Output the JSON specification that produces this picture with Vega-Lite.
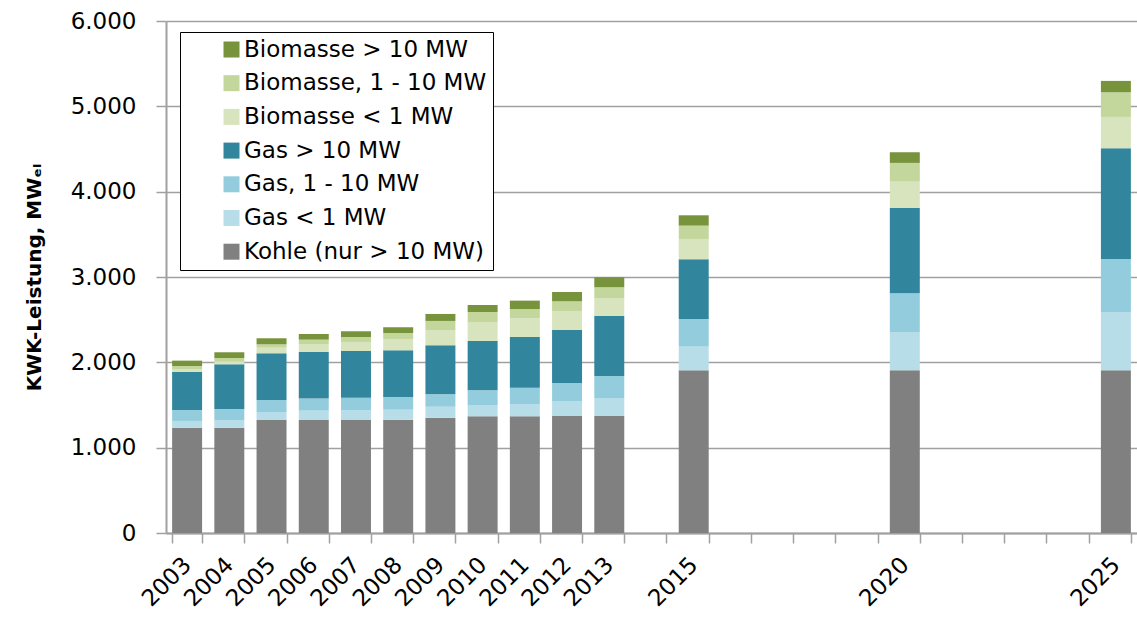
{
  "$schema": "https://vega.github.io/schema/vega-lite/v6.json",
  "width": 971,
  "height": 512,
  "autosize": {"type": "none"},
  "padding": {"left": 166, "top": 21, "right": 0, "bottom": 88},
  "background": "white",
  "config": {"font": "DejaVu Sans", "view": {"stroke": null}},
  "data": {
    "values": [
      {"year": 2003, "cat": "Kohle (nur > 10 MW)", "value": 1234},
      {"year": 2003, "cat": "Gas < 1 MW", "value": 79},
      {"year": 2003, "cat": "Gas, 1 - 10 MW", "value": 128},
      {"year": 2003, "cat": "Gas > 10 MW", "value": 446},
      {"year": 2003, "cat": "Biomasse < 1 MW", "value": 35},
      {"year": 2003, "cat": "Biomasse, 1 - 10 MW", "value": 35},
      {"year": 2003, "cat": "Biomasse > 10 MW", "value": 63},
      {"year": 2004, "cat": "Kohle (nur > 10 MW)", "value": 1234},
      {"year": 2004, "cat": "Gas < 1 MW", "value": 90},
      {"year": 2004, "cat": "Gas, 1 - 10 MW", "value": 129},
      {"year": 2004, "cat": "Gas > 10 MW", "value": 524},
      {"year": 2004, "cat": "Biomasse < 1 MW", "value": 31},
      {"year": 2004, "cat": "Biomasse, 1 - 10 MW", "value": 43},
      {"year": 2004, "cat": "Biomasse > 10 MW", "value": 67},
      {"year": 2005, "cat": "Kohle (nur > 10 MW)", "value": 1324},
      {"year": 2005, "cat": "Gas < 1 MW", "value": 94},
      {"year": 2005, "cat": "Gas, 1 - 10 MW", "value": 141},
      {"year": 2005, "cat": "Gas > 10 MW", "value": 547},
      {"year": 2005, "cat": "Biomasse < 1 MW", "value": 66},
      {"year": 2005, "cat": "Biomasse, 1 - 10 MW", "value": 39},
      {"year": 2005, "cat": "Biomasse > 10 MW", "value": 71},
      {"year": 2006, "cat": "Kohle (nur > 10 MW)", "value": 1324},
      {"year": 2006, "cat": "Gas < 1 MW", "value": 110},
      {"year": 2006, "cat": "Gas, 1 - 10 MW", "value": 141},
      {"year": 2006, "cat": "Gas > 10 MW", "value": 546},
      {"year": 2006, "cat": "Biomasse < 1 MW", "value": 94},
      {"year": 2006, "cat": "Biomasse, 1 - 10 MW", "value": 51},
      {"year": 2006, "cat": "Biomasse > 10 MW", "value": 66},
      {"year": 2007, "cat": "Kohle (nur > 10 MW)", "value": 1324},
      {"year": 2007, "cat": "Gas < 1 MW", "value": 117},
      {"year": 2007, "cat": "Gas, 1 - 10 MW", "value": 145},
      {"year": 2007, "cat": "Gas > 10 MW", "value": 547},
      {"year": 2007, "cat": "Biomasse < 1 MW", "value": 106},
      {"year": 2007, "cat": "Biomasse, 1 - 10 MW", "value": 58},
      {"year": 2007, "cat": "Biomasse > 10 MW", "value": 67},
      {"year": 2008, "cat": "Kohle (nur > 10 MW)", "value": 1328},
      {"year": 2008, "cat": "Gas < 1 MW", "value": 117},
      {"year": 2008, "cat": "Gas, 1 - 10 MW", "value": 149},
      {"year": 2008, "cat": "Gas > 10 MW", "value": 547},
      {"year": 2008, "cat": "Biomasse < 1 MW", "value": 133},
      {"year": 2008, "cat": "Biomasse, 1 - 10 MW", "value": 70},
      {"year": 2008, "cat": "Biomasse > 10 MW", "value": 67},
      {"year": 2009, "cat": "Kohle (nur > 10 MW)", "value": 1352},
      {"year": 2009, "cat": "Gas < 1 MW", "value": 128},
      {"year": 2009, "cat": "Gas, 1 - 10 MW", "value": 145},
      {"year": 2009, "cat": "Gas > 10 MW", "value": 575},
      {"year": 2009, "cat": "Biomasse < 1 MW", "value": 179},
      {"year": 2009, "cat": "Biomasse, 1 - 10 MW", "value": 106},
      {"year": 2009, "cat": "Biomasse > 10 MW", "value": 82},
      {"year": 2010, "cat": "Kohle (nur > 10 MW)", "value": 1368},
      {"year": 2010, "cat": "Gas < 1 MW", "value": 132},
      {"year": 2010, "cat": "Gas, 1 - 10 MW", "value": 172},
      {"year": 2010, "cat": "Gas > 10 MW", "value": 578},
      {"year": 2010, "cat": "Biomasse < 1 MW", "value": 223},
      {"year": 2010, "cat": "Biomasse, 1 - 10 MW", "value": 117},
      {"year": 2010, "cat": "Biomasse > 10 MW", "value": 82},
      {"year": 2011, "cat": "Kohle (nur > 10 MW)", "value": 1368},
      {"year": 2011, "cat": "Gas < 1 MW", "value": 144},
      {"year": 2011, "cat": "Gas, 1 - 10 MW", "value": 191},
      {"year": 2011, "cat": "Gas > 10 MW", "value": 594},
      {"year": 2011, "cat": "Biomasse < 1 MW", "value": 219},
      {"year": 2011, "cat": "Biomasse, 1 - 10 MW", "value": 109},
      {"year": 2011, "cat": "Biomasse > 10 MW", "value": 98},
      {"year": 2012, "cat": "Kohle (nur > 10 MW)", "value": 1371},
      {"year": 2012, "cat": "Gas < 1 MW", "value": 176},
      {"year": 2012, "cat": "Gas, 1 - 10 MW", "value": 211},
      {"year": 2012, "cat": "Gas > 10 MW", "value": 621},
      {"year": 2012, "cat": "Biomasse < 1 MW", "value": 223},
      {"year": 2012, "cat": "Biomasse, 1 - 10 MW", "value": 113},
      {"year": 2012, "cat": "Biomasse > 10 MW", "value": 109},
      {"year": 2013, "cat": "Kohle (nur > 10 MW)", "value": 1371},
      {"year": 2013, "cat": "Gas < 1 MW", "value": 211},
      {"year": 2013, "cat": "Gas, 1 - 10 MW", "value": 258},
      {"year": 2013, "cat": "Gas > 10 MW", "value": 703},
      {"year": 2013, "cat": "Biomasse < 1 MW", "value": 211},
      {"year": 2013, "cat": "Biomasse, 1 - 10 MW", "value": 126},
      {"year": 2013, "cat": "Biomasse > 10 MW", "value": 117},
      {"year": 2015, "cat": "Kohle (nur > 10 MW)", "value": 1906},
      {"year": 2015, "cat": "Gas < 1 MW", "value": 278},
      {"year": 2015, "cat": "Gas, 1 - 10 MW", "value": 324},
      {"year": 2015, "cat": "Gas > 10 MW", "value": 700},
      {"year": 2015, "cat": "Biomasse < 1 MW", "value": 238},
      {"year": 2015, "cat": "Biomasse, 1 - 10 MW", "value": 156},
      {"year": 2015, "cat": "Biomasse > 10 MW", "value": 121},
      {"year": 2020, "cat": "Kohle (nur > 10 MW)", "value": 1906},
      {"year": 2020, "cat": "Gas < 1 MW", "value": 450},
      {"year": 2020, "cat": "Gas, 1 - 10 MW", "value": 453},
      {"year": 2020, "cat": "Gas > 10 MW", "value": 1000},
      {"year": 2020, "cat": "Biomasse < 1 MW", "value": 309},
      {"year": 2020, "cat": "Biomasse, 1 - 10 MW", "value": 219},
      {"year": 2020, "cat": "Biomasse > 10 MW", "value": 125},
      {"year": 2025, "cat": "Kohle (nur > 10 MW)", "value": 1906},
      {"year": 2025, "cat": "Gas < 1 MW", "value": 684},
      {"year": 2025, "cat": "Gas, 1 - 10 MW", "value": 621},
      {"year": 2025, "cat": "Gas > 10 MW", "value": 1298},
      {"year": 2025, "cat": "Biomasse < 1 MW", "value": 367},
      {"year": 2025, "cat": "Biomasse, 1 - 10 MW", "value": 289},
      {"year": 2025, "cat": "Biomasse > 10 MW", "value": 133}
    ]
  },
  "transform": [
    {"calculate": "indexof(['Kohle (nur > 10 MW)','Gas < 1 MW','Gas, 1 - 10 MW','Gas > 10 MW','Biomasse < 1 MW','Biomasse, 1 - 10 MW','Biomasse > 10 MW'], datum.cat)", "as": "stackorder"}
  ],
  "mark": {"type": "bar"},
  "encoding": {
    "x": {
      "field": "year",
      "type": "ordinal",
      "scale": {
        "domain": [2003, 2004, 2005, 2006, 2007, 2008, 2009, 2010, 2011, 2012, 2013, 2014, 2015, 2016, 2017, 2018, 2019, 2020, 2021, 2022, 2023, 2024, 2025],
        "paddingInner": 0.29,
        "paddingOuter": 0.145
      },
      "axis": {
        "title": null,
        "tickBand": "extent",
        "labelExpr": "(datum.value == 2014 || (datum.value > 2015 && datum.value < 2020) || (datum.value > 2020 && datum.value < 2025)) ? '' : datum.label",
        "labelAngle": -45,
        "labelAlign": "right",
        "labelBaseline": "middle",
        "labelFontSize": 23,
        "labelColor": "black",
        "labelPadding": 18,
        "labelOverlap": false,
        "domainColor": "#a0a0a0",
        "domainWidth": 2,
        "tickColor": "#a0a0a0",
        "tickWidth": 1.5,
        "tickSize": 10,
        "grid": false
      }
    },
    "y": {
      "field": "value",
      "type": "quantitative",
      "stack": "zero",
      "scale": {"domain": [0, 6000], "nice": false},
      "axis": {
        "values": [0, 1000, 2000, 3000, 4000, 5000, 6000],
        "labelExpr": "replace(format(datum.value, ','), ',', '.')",
        "labelFontSize": 23,
        "labelColor": "black",
        "labelPadding": 20,
        "grid": true,
        "gridColor": "#a0a0a0",
        "gridWidth": 1.5,
        "domainColor": "#a0a0a0",
        "domainWidth": 2,
        "tickColor": "#a0a0a0",
        "tickWidth": 1.5,
        "tickSize": 10,
        "title": "KWK-Leistung, MWₑₗ",
        "titleFontSize": 20,
        "titleFontWeight": "bold",
        "titleColor": "black",
        "titlePadding": 26
      }
    },
    "color": {
      "field": "cat",
      "type": "nominal",
      "scale": {
        "domain": ["Biomasse > 10 MW", "Biomasse, 1 - 10 MW", "Biomasse < 1 MW", "Gas > 10 MW", "Gas, 1 - 10 MW", "Gas < 1 MW", "Kohle (nur > 10 MW)"],
        "range": ["#77933c", "#c3d69b", "#d7e4bd", "#31859c", "#93cddd", "#b7dde8", "#808080"]
      },
      "legend": {
        "title": null,
        "orient": "none",
        "legendX": 14,
        "legendY": 11,
        "strokeColor": "black",
        "fillColor": "white",
        "padding": 6,
        "symbolType": "square",
        "symbolSize": 256,
        "symbolStrokeWidth": 0,
        "symbolOpacity": 1,
        "symbolOffset": 34,
        "labelOffset": 1,
        "labelFontSize": 23,
        "labelColor": "black",
        "labelLimit": 400,
        "rowPadding": 9.7
      }
    },
    "order": {"field": "stackorder", "type": "quantitative", "sort": "ascending"}
  }
}
